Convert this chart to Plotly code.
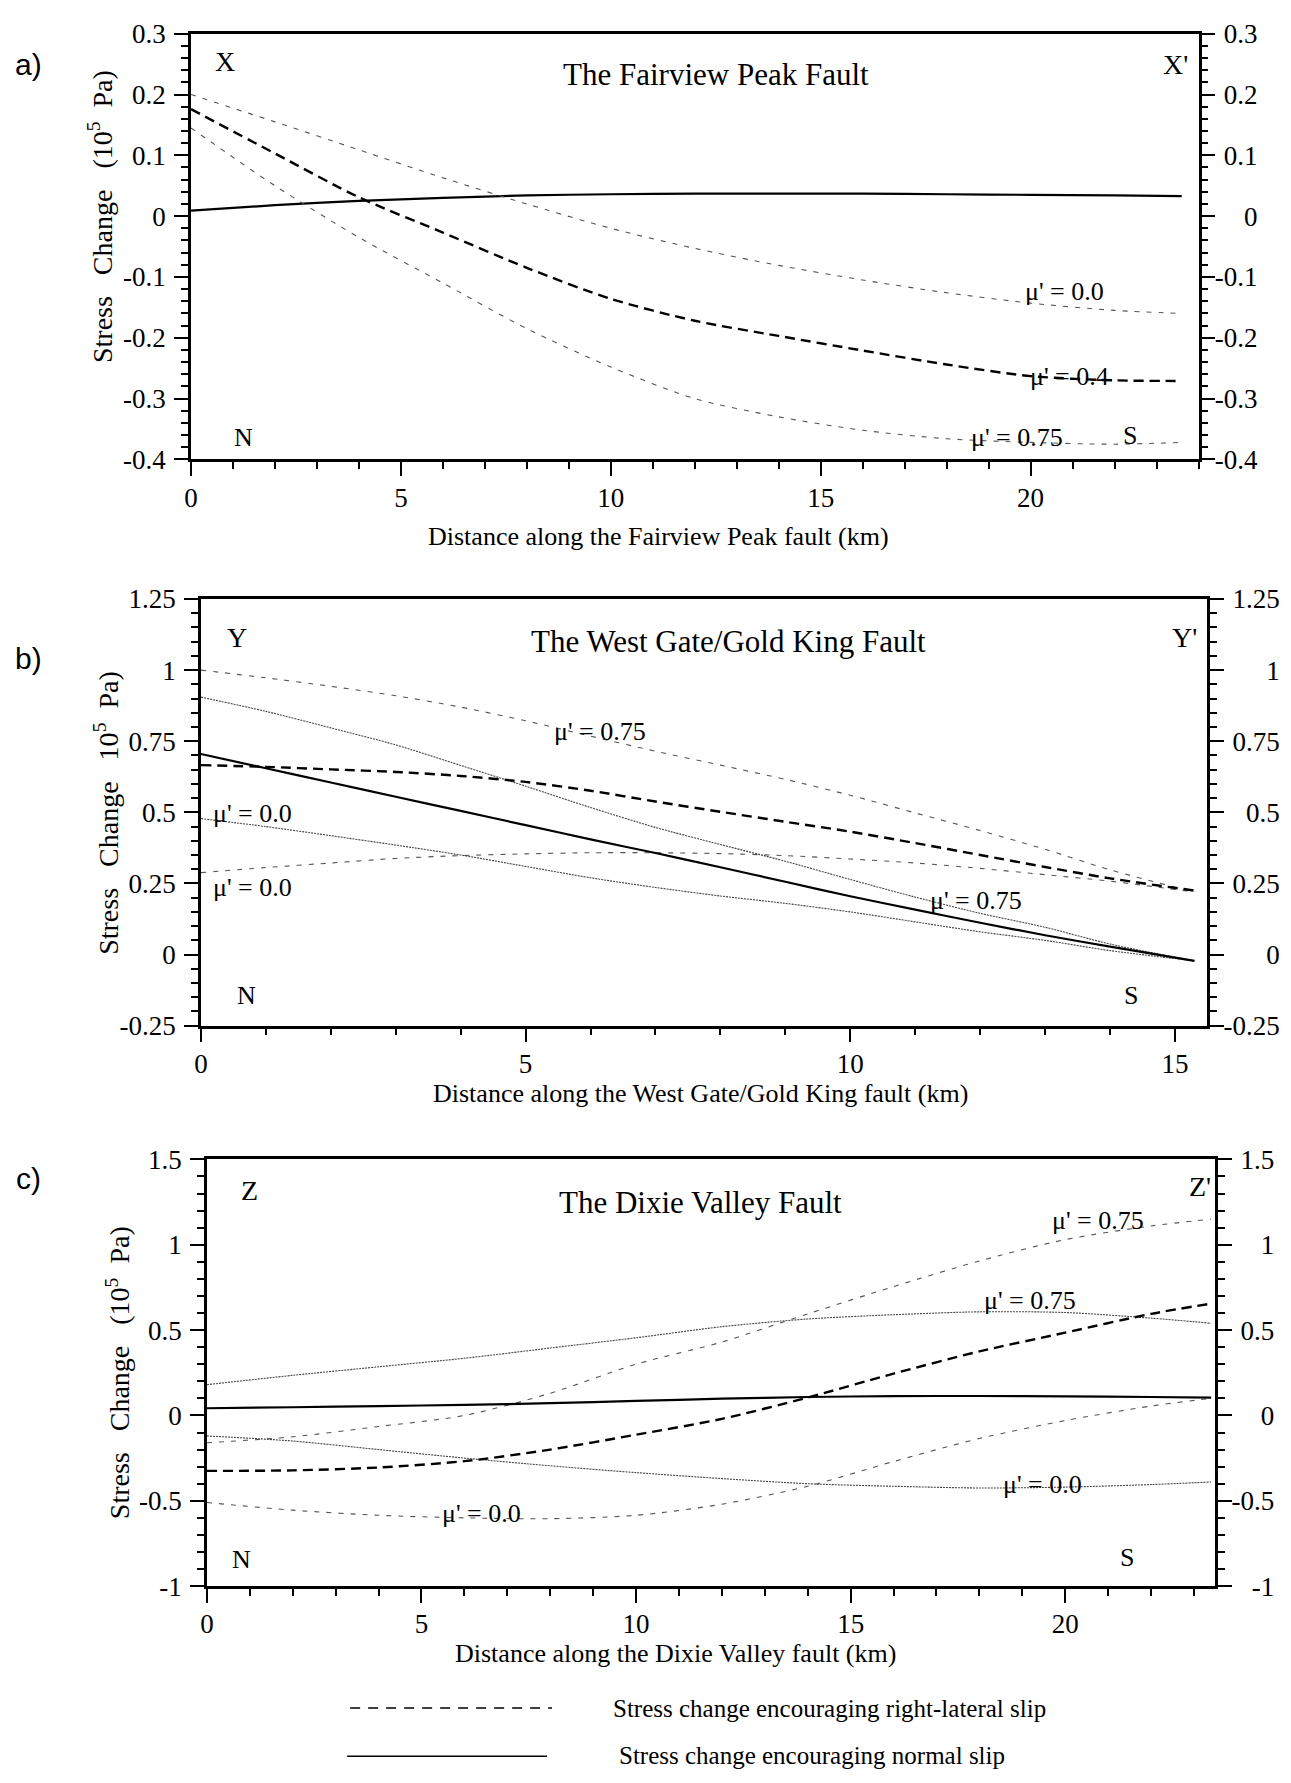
import plotly.graph_objects as go

W, H = 1291, 1783
SERIF = "Liberation Serif, Times New Roman, serif"
SANS = "Liberation Sans, Arial, sans-serif"

# ---------------- data: (a) Fairview Peak fault ----------------
dist_a = [0, 2, 4, 6, 8, 10, 12, 14, 16, 18, 20, 22, 23.6]
normal_a = [0.009, 0.018, 0.025, 0.030, 0.034, 0.036, 0.037, 0.037, 0.037, 0.036, 0.035, 0.034, 0.033]
rl_mu00_a = [0.200, 0.155, 0.109, 0.063, 0.020, -0.020, -0.053, -0.081, -0.105, -0.126, -0.143, -0.155, -0.160]
rl_mu04_a = [0.176, 0.103, 0.031, -0.027, -0.085, -0.136, -0.172, -0.197, -0.221, -0.244, -0.263, -0.270, -0.271]
rl_mu075_a = [0.145, 0.050, -0.035, -0.110, -0.185, -0.248, -0.300, -0.330, -0.352, -0.366, -0.372, -0.375, -0.372]

# ---------------- data: (b) West Gate / Gold King fault ----------------
dist_b = [0, 1, 2, 3, 4, 5, 6, 7, 8, 9, 10, 11, 12, 13, 14, 15.3]
normal_b = [0.705, 0.655, 0.605, 0.555, 0.505, 0.455, 0.405, 0.357, 0.307, 0.256, 0.205, 0.158, 0.112, 0.068, 0.028, -0.022]
normal_mu075_b = [0.905, 0.855, 0.797, 0.737, 0.665, 0.592, 0.517, 0.447, 0.387, 0.328, 0.264, 0.202, 0.145, 0.096, 0.037, -0.022]
normal_mu00_b = [0.478, 0.450, 0.418, 0.385, 0.350, 0.310, 0.270, 0.236, 0.206, 0.180, 0.150, 0.115, 0.080, 0.050, 0.014, -0.022]
rl_mu04_b = [0.666, 0.660, 0.651, 0.642, 0.628, 0.607, 0.576, 0.538, 0.502, 0.467, 0.432, 0.392, 0.350, 0.308, 0.268, 0.225]
rl_mu075_b = [1.000, 0.973, 0.943, 0.910, 0.870, 0.822, 0.768, 0.715, 0.666, 0.616, 0.560, 0.498, 0.436, 0.370, 0.298, 0.219]
rl_mu00_b = [0.288, 0.306, 0.322, 0.338, 0.348, 0.354, 0.358, 0.358, 0.355, 0.348, 0.336, 0.322, 0.303, 0.281, 0.258, 0.220]

# ---------------- data: (c) Dixie Valley fault ----------------
dist_c = [0, 2, 4, 6, 8, 10, 12, 14, 16, 18, 20, 22, 23.4]
normal_c = [0.042, 0.048, 0.055, 0.062, 0.072, 0.085, 0.098, 0.108, 0.113, 0.114, 0.112, 0.108, 0.104]
normal_mu075_c = [0.180, 0.235, 0.285, 0.335, 0.395, 0.455, 0.520, 0.565, 0.590, 0.607, 0.603, 0.570, 0.540]
normal_mu00_c = [-0.120, -0.150, -0.200, -0.250, -0.295, -0.335, -0.370, -0.400, -0.415, -0.425, -0.420, -0.405, -0.390]
rl_mu04_c = [-0.325, -0.322, -0.305, -0.268, -0.200, -0.113, -0.020, 0.105, 0.245, 0.375, 0.485, 0.595, 0.655]
rl_mu075_c = [-0.160, -0.125, -0.065, 0.000, 0.130, 0.300, 0.430, 0.595, 0.755, 0.905, 1.030, 1.110, 1.150]
rl_mu00_c = [-0.510, -0.555, -0.585, -0.600, -0.605, -0.585, -0.520, -0.415, -0.270, -0.135, -0.030, 0.055, 0.100]

# ---------------- tick labels ----------------
xtick_vals_a = [0, 5, 10, 15, 20]
xtick_vals_b = [0, 5, 10, 15]
xtick_vals_c = [0, 5, 10, 15, 20]
ytick_vals_a = [0.3, 0.2, 0.1, 0, -0.1, -0.2, -0.3, -0.4]
ytick_text_a = ["0.3", "0.2", "0.1", "0", "-0.1", "-0.2", "-0.3", "-0.4"]
ytick_vals_b = [1.25, 1, 0.75, 0.5, 0.25, 0, -0.25]
ytick_text_b = ["1.25", "1", "0.75", "0.5", "0.25", "0", "-0.25"]
ytick_vals_c = [1.5, 1, 0.5, 0, -0.5, -1]
ytick_text_c = ["1.5", "1", "0.5", "0", "-0.5", "-1"]

# ---------------- styles ----------------
STY = {
    "normal": dict(color="black", width=2.2, dash="solid"),
    "rl_main": dict(color="black", width=2.4, dash="10px,6px"),
    "rl_mu": dict(color="#555555", width=1.1, dash="5px,7px"),
    "normal_mu": dict(color="#444444", width=1.1, dash="2px,1px"),
}

# pixel layout of the three panels: (left, right, top, bottom)
PANELS = [
    dict(px=(185, 1198, 19, 452), xr=[0, 24.0], yr=[-0.4, 0.3], ymin=0.02),
    dict(px=(195, 1207, 594, 1028), xr=[0, 15.5], yr=[-0.25, 1.25], ymin=0.05),
    dict(px=(201, 1215, 1164, 1598), xr=[0, 23.5], yr=[-1, 1.5], ymin=0.1),
]
XT = [xtick_vals_a, xtick_vals_b, xtick_vals_c]
YV = [ytick_vals_a, ytick_vals_b, ytick_vals_c]
YT = [ytick_text_a, ytick_text_b, ytick_text_c]


def pad_right(labels):
    mh = max(s.count("-") for s in labels)
    md = max(s.count(".") for s in labels)
    mg = max(sum(c.isdigit() for c in s) for s in labels)
    out = []
    for s in labels:
        p = ("\u2004" * (mh - s.count("-")) + "\u2005" * (md - s.count("."))
             + "\u2002" * (mg - sum(c.isdigit() for c in s)))
        out.append(p + s)
    return out


fig = go.Figure()

series = [
    (dist_a, [(normal_a, "normal"), (rl_mu00_a, "rl_mu"), (rl_mu04_a, "rl_main"), (rl_mu075_a, "rl_mu")]),
    (dist_b, [(rl_mu075_b, "rl_mu"), (rl_mu00_b, "rl_mu"), (normal_mu075_b, "normal_mu"),
              (normal_mu00_b, "normal_mu"), (rl_mu04_b, "rl_main"), (normal_b, "normal")]),
    (dist_c, [(rl_mu075_c, "rl_mu"), (rl_mu00_c, "rl_mu"), (normal_mu075_c, "normal_mu"),
              (normal_mu00_c, "normal_mu"), (rl_mu04_c, "rl_main"), (normal_c, "normal")]),
]

for i, (dist, lst) in enumerate(series):
    xa = "x" if i == 0 else f"x{i+1}"
    ya = "y" if i == 0 else f"y{i+1}"
    for vals, sty in lst:
        fig.add_trace(go.Scatter(x=dist, y=vals, mode="lines", xaxis=xa, yaxis=ya,
                                 line=dict(shape="spline", smoothing=0.8, **STY[sty]),
                                 hoverinfo="skip", showlegend=False))
    # invisible trace to carry the right-hand axis
    fig.add_trace(go.Scatter(x=dist, y=lst[-1][0], mode="lines", xaxis=xa, yaxis=f"y{i+4}",
                             line=dict(width=0), opacity=0, hoverinfo="skip", showlegend=False))

tickfont = dict(family=SERIF, size=27, color="black")
layout_axes = {}
for i, p in enumerate(PANELS):
    l, r, t, b = p["px"]
    xd = [l / W, r / W]
    yd = [1 - b / H, 1 - t / H]
    xk = "xaxis" if i == 0 else f"xaxis{i+1}"
    yk = "yaxis" if i == 0 else f"yaxis{i+1}"
    yrk = f"yaxis{i+4}"
    xa = "x" if i == 0 else f"x{i+1}"
    ya = "y" if i == 0 else f"y{i+1}"
    layout_axes[xk] = dict(
        domain=xd, anchor=ya, range=p["xr"], showline=True, linewidth=2.5, linecolor="black",
        mirror=True, ticks="outside", ticklen=14, tickwidth=2, tickcolor="black",
        tickmode="array", tickvals=XT[i], ticktext=[str(v) for v in XT[i]],
        minor=dict(tickmode="linear", tick0=0, dtick=1, ticks="outside", ticklen=7,
                   tickwidth=1.5, tickcolor="black", showgrid=False),
        showgrid=False, zeroline=False, tickfont=tickfont, ticklabelstandoff=-2, fixedrange=True)
    ycommon = dict(
        range=p["yr"], showline=True, linewidth=2.5, linecolor="black",
        ticks="outside", ticklen=14, tickwidth=2, tickcolor="black", tickmode="array",
        tickvals=YV[i],
        minor=dict(tickmode="linear", tick0=p["yr"][0], dtick=p["ymin"], ticks="outside", ticklen=7,
                   tickwidth=1.5, tickcolor="black", showgrid=False),
        showgrid=False, zeroline=False, tickfont=tickfont, fixedrange=True)
    layout_axes[yk] = dict(domain=yd, anchor=xa, side="left", ticktext=YT[i],
                           ticklabelstandoff=3, **ycommon)
    layout_axes[yrk] = dict(overlaying=ya, anchor=xa, side="right", ticktext=pad_right(YT[i]),
                            ticklabelstandoff=-6, **ycommon)

fig.update_layout(**layout_axes)

ann = []


def A(text, x, y, xref, yref, size=26, xanchor="center", yanchor="middle", family=SERIF, angle=0):
    ann.append(dict(text=text, x=x, y=y, xref=xref, yref=yref, showarrow=False,
                    xanchor=xanchor, yanchor=yanchor, textangle=angle,
                    font=dict(family=family, size=size, color="black")))


def P(px, py):
    return px / W, 1 - py / H


# panel letters
for lab, py in [("a)", 50), ("b)", 655), ("c)", 1183)]:
    x, y = P(22, py)
    A(lab, x, y, "paper", "paper", size=30, family=SANS)

# y-axis titles
NB = "\u00a0"
for txt, px, py in [
    ("Stress" + NB * 3 + "Change" + NB * 3 + "(10<sup>5</sup>" + NB * 2 + "Pa)", 94, 205),
    ("Stress" + NB * 3 + "Change" + NB * 3 + "10<sup>5</sup>" + NB * 2 + "Pa)", 100, 811),
    ("Stress" + NB * 3 + "Change" + NB * 3 + "(10<sup>5</sup>" + NB * 2 + "Pa)", 112, 1381),
]:
    x, y = P(px, py)
    A(txt, x, y, "paper", "paper", size=28, angle=-90)

# x-axis titles
for txt, px, py in [
    ("Distance along the Fairview Peak fault (km)", 655, 530),
    ("Distance along the West Gate/Gold King fault (km)", 697, 1097),
    ("Distance along the Dixie Valley fault (km)", 672, 1667),
]:
    x, y = P(px, py)
    A(txt, x, y, "paper", "paper", size=26)

# panel (a) labels in data coordinates
A("The Fairview Peak Fault", 12.5, 0.233, "x", "y", size=31)
A("X", 0.8, 0.254, "x", "y", size=28)
A("X'", 23.45, 0.249, "x", "y", size=28)
A("N", 1.24, -0.364, "x", "y", size=26)
A("S", 22.38, -0.361, "x", "y", size=26)
A("\u03bc' = 0.0", 20.8, -0.124, "x", "y", size=26)
A("\u03bc' = 0.4", 20.92, -0.264, "x", "y", size=26)
A("\u03bc' = 0.75", 19.68, -0.364, "x", "y", size=26)

# panel (b)
A("The West Gate/Gold King Fault", 8.13, 1.10, "x2", "y2", size=31)
A("Y", 0.56, 1.115, "x2", "y2", size=28)
A("Y'", 15.15, 1.115, "x2", "y2", size=28)
A("N", 0.70, -0.144, "x2", "y2", size=26)
A("S", 14.32, -0.144, "x2", "y2", size=26)
A("\u03bc' = 0.0", 0.79, 0.495, "x2", "y2", size=26)
A("\u03bc' = 0.0", 0.79, 0.236, "x2", "y2", size=26)
A("\u03bc' = 0.75", 6.14, 0.783, "x2", "y2", size=26)
A("\u03bc' = 0.75", 11.94, 0.19, "x2", "y2", size=26)

# panel (c)
A("The Dixie Valley Fault", 11.5, 1.25, "x3", "y3", size=31)
A("Z", 1.0, 1.32, "x3", "y3", size=28)
A("Z'", 23.15, 1.34, "x3", "y3", size=28)
A("N", 0.81, -0.845, "x3", "y3", size=26)
A("S", 21.45, -0.835, "x3", "y3", size=26)
A("\u03bc' = 0.75", 20.76, 1.145, "x3", "y3", size=26)
A("\u03bc' = 0.75", 19.19, 0.671, "x3", "y3", size=26)
A("\u03bc' = 0.0", 19.47, -0.402, "x3", "y3", size=26)
A("\u03bc' = 0.0", 6.41, -0.577, "x3", "y3", size=26)

# legend text
for txt, px, py in [("Stress change encouraging right-lateral slip", 607, 1722),
                    ("Stress change encouraging normal slip", 613, 1770)]:
    x, y = P(px, py)
    A(txt, x, y, "paper", "paper", size=25, xanchor="left")

# legend line samples
shapes = []
for (x0, x1, py, dash) in [(345, 548, 1722, "10px,8px"), (342, 543, 1771, "solid")]:
    shapes.append(dict(type="line", xref="paper", yref="paper",
                       x0=x0 / W, x1=x1 / W, y0=1 - py / H, y1=1 - py / H,
                       line=dict(color="black", width=1.6, dash=dash)))

fig.update_layout(
    width=W, height=H, margin=dict(l=0, r=0, t=0, b=0),
    paper_bgcolor="white", plot_bgcolor="white", showlegend=False,
    annotations=ann, shapes=shapes,
    font=dict(family=SERIF, color="black"),
)

fig.write_html("out.html", config={"displayModeBar": False},
               post_script="document.body.style.margin='0px';")
